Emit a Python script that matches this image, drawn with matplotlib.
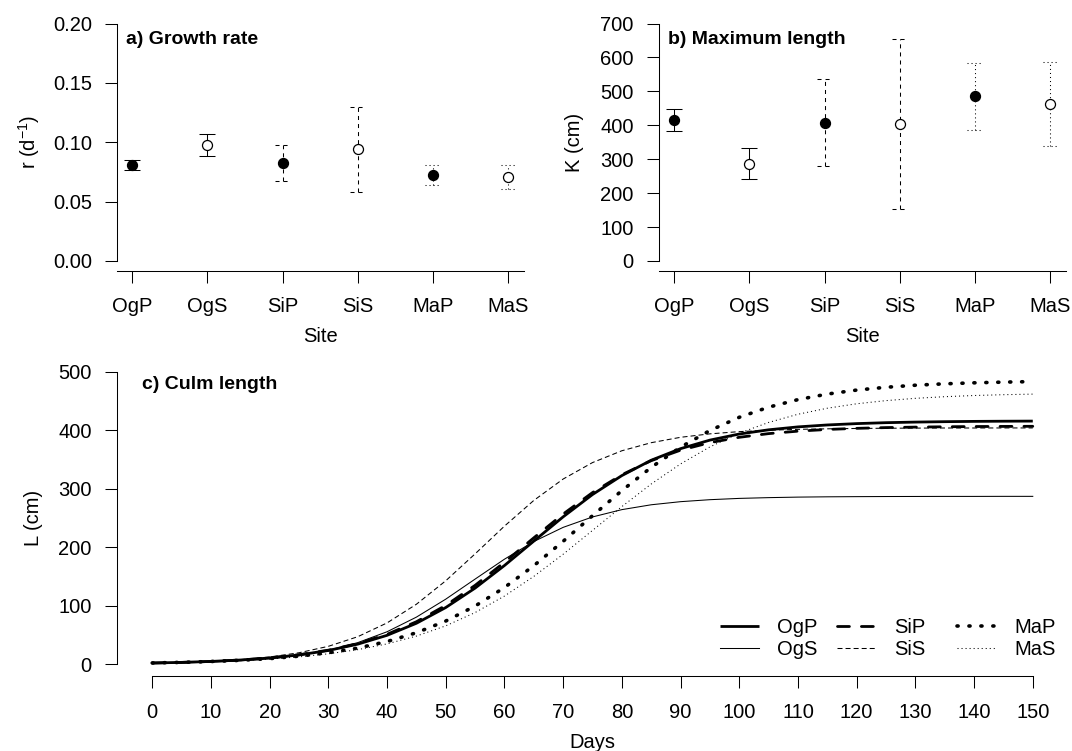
import matplotlib
matplotlib.use("Agg")
import matplotlib.pyplot as plt
from matplotlib.legend import Legend

plt.rcParams['font.family'] = ['Liberation Sans', 'DejaVu Sans']
plt.rcParams['mathtext.fontset'] = 'custom'
plt.rcParams['mathtext.rm'] = 'Liberation Sans'
plt.rcParams['mathtext.it'] = 'Liberation Sans:italic'
plt.rcParams['lines.scale_dashes'] = False

# ---------------- data ----------------
sites = ['OgP', 'OgS', 'SiP', 'SiS', 'MaP', 'MaS']

r_est = [0.0808, 0.0974, 0.0825, 0.0946, 0.0724, 0.0709]
r_lo = [0.0763, 0.0881, 0.0676, 0.0583, 0.0636, 0.0608]
r_hi = [0.0847, 0.1067, 0.0974, 0.1298, 0.0805, 0.0811]

K_est = [416, 287, 407, 404, 485, 464]
K_lo = [383, 243, 279, 152, 387, 340]
K_hi = [448, 334, 535, 654, 585, 587]

days = list(range(0, 151, 5))
L_OgP = [2.2, 3.3, 4.9, 7.3, 10.8, 16.0, 23.6, 34.4, 49.5, 70.1, 97.0, 130.2, 168.8, 210.5, 252.0,
         290.1, 322.5, 348.7, 368.5, 383.1, 393.5, 400.7, 405.7, 409.0, 411.3, 412.9, 413.9, 414.6,
         415.1, 415.4, 415.6]
L_OgS = [1.4, 2.3, 3.7, 6.0, 9.6, 15.2, 24.0, 37.0, 55.6, 80.6, 111.3, 145.6, 179.6, 209.8, 234.0,
         251.8, 264.3, 272.6, 277.9, 281.3, 283.5, 284.8, 285.7, 286.2, 286.5, 286.7, 286.8, 286.9,
         286.9, 287.0, 287.0]
L_SiP = [2.2, 3.2, 4.9, 7.3, 10.9, 16.3, 24.1, 35.4, 51.2, 72.7, 100.6, 134.9, 174.3, 216.1, 256.8,
         293.4, 323.9, 348.0, 365.9, 378.8, 387.9, 394.2, 398.4, 401.3, 403.2, 404.5, 405.3, 405.9,
         406.3, 406.5, 406.7]
L_SiS = [1.9, 3.1, 5.0, 7.9, 12.5, 19.7, 30.7, 47.1, 70.7, 102.6, 142.7, 188.7, 236.1, 280.0, 316.6,
         344.7, 364.9, 378.7, 387.9, 393.8, 397.6, 400.0, 401.5, 402.4, 403.0, 403.4, 403.6, 403.8,
         403.8, 403.9, 403.9]
L_MaP = [2.3, 3.3, 4.8, 6.8, 9.7, 13.9, 19.7, 27.7, 38.9, 53.9, 73.9, 99.5, 131.2, 168.5, 210.2,
         253.9, 296.8, 336.5, 371.0, 399.5, 422.1, 439.4, 452.3, 461.8, 468.6, 473.4, 476.9, 479.3,
         481.0, 482.2, 483.1]
L_MaS = [2.2, 3.1, 4.5, 6.3, 9.0, 12.7, 17.9, 25.0, 34.9, 48.2, 65.7, 88.4, 116.6, 150.2, 188.1,
         228.8, 269.5, 308.1, 342.4, 371.5, 395.0, 413.3, 427.3, 437.6, 445.2, 450.6, 454.5, 457.3,
         459.3, 460.7, 461.7]
curves = [L_OgP, L_OgS, L_SiP, L_SiS, L_MaP, L_MaS]

r_ticks = [0.00, 0.05, 0.10, 0.15, 0.20]
K_ticks = [0, 100, 200, 300, 400, 500, 600, 700]
L_ticks = [0, 100, 200, 300, 400, 500]
day_ticks = list(range(0, 151, 10))

# ---------------- styles ----------------
W, H = 1072, 751
FS = 14.5
TFS = 14
fig = plt.figure(figsize=(W / 100, H / 100), dpi=100)


def px_axes(l, t, r, b):
    return fig.add_axes([l / W, 1 - b / H, (r - l) / W, (b - t) / H])


bar_styles = ['-', '-', (0, (2.9, 2.9)), (0, (2.9, 2.9)), (0, (0.75, 2.15)), (0, (0.75, 2.15))]
filled = [True, False, True, False, True, False]

curve_styles = [
    dict(lw=2.0, linestyle='-', solid_capstyle='butt'),
    dict(lw=0.75, linestyle='-'),
    dict(lw=2.0, dashes=(8.6, 8.6), dash_capstyle='round'),
    dict(lw=0.75, dashes=(3.6, 2.2), dash_capstyle='butt'),
    dict(lw=2.6, dashes=(0.8, 7.8), dash_capstyle='round'),
    dict(lw=0.75, dashes=(0.75, 2.15), dash_capstyle='butt'),
]


def style_axes(ax, xb, yb):
    for s in ['top', 'right']:
        ax.spines[s].set_visible(False)
    ax.spines['left'].set_bounds(*yb)
    if xb is not None:
        ax.spines['bottom'].set_bounds(*xb)
    for s in ['left', 'bottom']:
        ax.spines[s].set_linewidth(0.75)
    ax.tick_params(direction='out', length=8.6, width=0.75, labelsize=FS, colors='black')
    ax.tick_params(axis='x', pad=10.5)
    ax.tick_params(axis='y', pad=9.5)


def panel_ci(ax, est, lo, hi, capw):
    x = list(range(1, len(sites) + 1))
    for i in range(len(sites)):
        ax.vlines(x[i], lo[i], hi[i], colors='black', linewidth=0.75, linestyles=[bar_styles[i]])
        ax.hlines([lo[i], hi[i]], x[i] - capw, x[i] + capw, colors='black', linewidth=0.75,
                  linestyles=[bar_styles[i]])
        ax.plot(x[i], est[i], 'o', ms=7.2, mec='black', mew=0.9,
                mfc='black' if filled[i] else 'white', zorder=5)
    ax.set_xticks(x)
    ax.set_xticklabels(sites)


# ---------------- panel a ----------------
axa = px_axes(117, 14, 523.5, 270.5)
panel_ci(axa, r_est, r_lo, r_hi, 0.105)
axa.set_xlim(0.8, 6.2)
axa.set_ylim(-0.008, 0.208)
axa.set_yticks(r_ticks)
axa.set_yticklabels(['%.2f' % v for v in r_ticks])
style_axes(axa, None, (0, 0.2))
axa.set_xlabel('Site', fontsize=FS)
axa.set_ylabel(r'r (d$^{-1}$)', fontsize=FS)

# ---------------- panel b ----------------
axb = px_axes(659, 14, 1065.5, 270.5)
panel_ci(axb, K_est, K_lo, K_hi, 0.105)
axb.set_xlim(0.8, 6.2)
axb.set_ylim(-28, 728)
axb.set_yticks(K_ticks)
style_axes(axb, None, (0, 700))
axb.set_xlabel('Site', fontsize=FS)
axb.set_ylabel('K (cm)', fontsize=FS)

for ax, ylx in [(axa, -0.2165), (axb, -0.2091)]:
    ax.xaxis.label.set_va('center')
    ax.xaxis.set_label_coords(0.5, -0.2573)
    ax.yaxis.label.set_va('center')
    ax.yaxis.set_label_coords(ylx, 0.5)

# ---------------- panel c ----------------
axc = px_axes(117, 360, 1068, 676)
lines = []
for name, ys, st in zip(sites, curves, curve_styles):
    ln, = axc.plot(days, ys, color='black', label=name, **st)
    lines.append(ln)
axc.set_xlim(-6, 156)
axc.set_ylim(-20, 520)
axc.set_xticks(day_ticks)
axc.set_yticks(L_ticks)
style_axes(axc, (0, 150), (0, 500))
axc.set_xlabel('Days', fontsize=FS)
axc.set_ylabel('L (cm)', fontsize=FS)
axc.xaxis.label.set_va('center')
axc.xaxis.set_label_coords(0.5, -0.2089)
axc.yaxis.label.set_va('center')
axc.yaxis.set_label_coords(-0.0883, 0.5)

# legend: three columns of two rows (each drawn once)
col_x = [720, 837, 957]
for k, cx in enumerate(col_x):
    leg = Legend(axc, lines[2 * k:2 * k + 2], sites[2 * k:2 * k + 2], loc='center left',
                 bbox_to_anchor=(cx / W, 1 - 638.5 / H), bbox_transform=fig.transFigure,
                 frameon=False, fontsize=FS, borderpad=0, borderaxespad=0,
                 handlelength=1.94, handletextpad=0.9, labelspacing=0.12)
    axc.add_artist(leg)

# ---------------- panel titles ----------------
fig.text(125.7 / W, 1 - 44.1 / H, 'a) Growth rate', fontsize=TFS, fontweight='bold', va='baseline')
fig.text(668 / W, 1 - 44.1 / H, 'b) Maximum length', fontsize=TFS, fontweight='bold', va='baseline')
fig.text(141.7 / W, 1 - 389.3 / H, 'c) Culm length', fontsize=TFS, fontweight='bold', va='baseline')

fig.savefig('out.png', dpi=100)
